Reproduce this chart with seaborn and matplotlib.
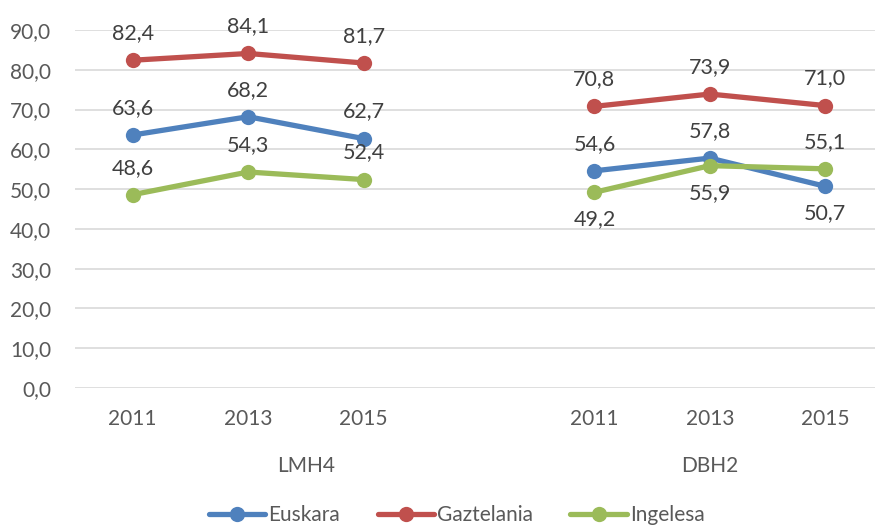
import matplotlib
matplotlib.use("Agg")
import matplotlib.pyplot as plt
import matplotlib.transforms as mtransforms
import pandas as pd
import seaborn as sns

# chart data
groups = ["LMH4", "DBH2"]
years = ["2011", "2013", "2015"]
languages = ["Euskara", "Gaztelania", "Ingelesa"]
euskara = [63.6, 68.2, 62.7, 54.6, 57.8, 50.7]
gaztelania = [82.4, 84.1, 81.7, 70.8, 73.9, 71.0]
ingelesa = [48.6, 54.3, 52.4, 49.2, 55.9, 55.1]
# which data labels go under their point
below = {"Euskara": [False, False, False, False, False, True],
         "Gaztelania": [False] * 6,
         "Ingelesa": [False, False, False, True, True, False]}

colors = {"Euskara": "#4F81BD", "Gaztelania": "#C0504D", "Ingelesa": "#9BBB59"}

sns.set_theme(style="white")
plt.rcParams['font.family'] = ['Lato', 'DejaVu Sans']

# one empty category between the two groups
positions = [0, 1, 2, 4, 5, 6]
rows = []
for lang, vals in zip(languages, [euskara, gaztelania, ingelesa]):
    for i, v in enumerate(vals):
        rows.append({"pos": positions[i], "value": v, "lang": lang,
                     "group": groups[i // 3], "year": years[i % 3],
                     "below": below[lang][i]})
df = pd.DataFrame(rows)

fig = plt.figure(figsize=(8.75, 5.27), dpi=100)
ax = fig.add_axes([75 / 875, 1 - 388 / 527, 808 / 875, 358 / 527])

sns.lineplot(data=df, x="pos", y="value", hue="lang", units="group",
             estimator=None, palette=colors, marker="o", markersize=11,
             markeredgewidth=0, linewidth=3.8, ax=ax, legend=True)
for line in ax.lines:
    line.set_clip_on(False)

for _, r in df.iterrows():
    off = -19.5 if r["below"] else 19.5
    ax.annotate(f"{r['value']:.1f}".replace(".", ","), (r["pos"], r["value"]),
                xytext=(0, off), textcoords="offset points", ha="center",
                va="center", fontsize=15.5, color="#404040", annotation_clip=False)

ax.set_xlim(-0.5, 6.5)
ax.set_ylim(0, 90)
ax.set_yticks(range(0, 91, 10))
ax.set_yticklabels([f"{v:.1f}".replace(".", ",") for v in range(0, 91, 10)])
ax.set_xticks(positions)
ax.set_xticklabels(years * 2)
ax.tick_params(axis="both", length=0, labelsize=15, labelcolor="#595959")
ax.tick_params(axis="x", pad=15)
ax.tick_params(axis="y", pad=17)
ax.yaxis.grid(True, color="#D9D9D9", linewidth=1.2)
ax.set_axisbelow(True)
for s in ax.spines.values():
    s.set_visible(False)
ax.set_xlabel("")
ax.set_ylabel("")

trans = mtransforms.blended_transform_factory(ax.transData, ax.transAxes)
for g, xc in zip(groups, [1.5, 5]):
    ax.text(xc, -78 / 358, g, transform=trans, ha="center", va="center",
            fontsize=15, color="#595959")

handles, labels = ax.get_legend_handles_labels()
ax.legend_.remove()
fig.legend(handles, labels, loc="center", bbox_to_anchor=(0.522, 1 - 515 / 527),
           ncol=3, frameon=False, fontsize=15, handlelength=2.7,
           handletextpad=0.15, columnspacing=1.8, labelcolor="#595959")

fig.savefig("out.png", dpi=100)
